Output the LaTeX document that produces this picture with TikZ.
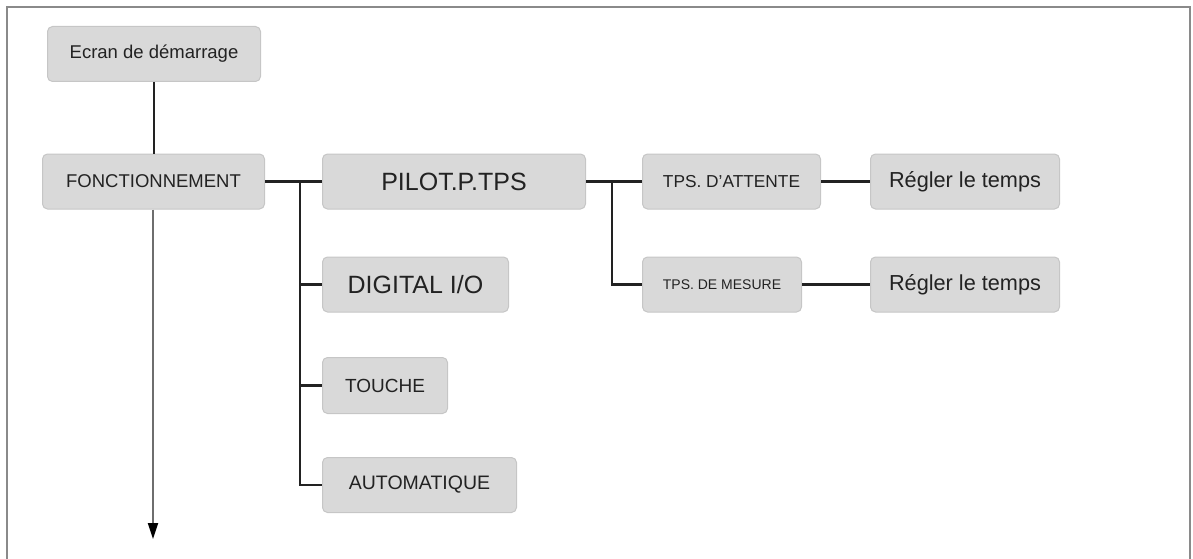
\documentclass[tikz,border=0pt]{standalone}
\usepackage{fontspec}
\setmainfont{Liberation Sans}
\usetikzlibrary{arrows.meta}
\definecolor{boxfill}{HTML}{D9D9D9}
\definecolor{boxline}{HTML}{C6C6C6}
\definecolor{txt}{HTML}{222222}
\definecolor{frame}{HTML}{8A8A8A}
\tikzset{
  menubox/.style={draw=boxline, line width=1pt, fill=boxfill, rounded corners=5pt,
    text=txt, inner sep=0pt, anchor=north west},
  conn/.style={draw=txt, line width=2.4pt},
}
\begin{document}
\begin{tikzpicture}[x=1pt,y=-1pt]
\useasboundingbox (0,0) rectangle (1193,559);
% frame
\draw[frame, line width=2pt] (7,559) -- (7,7) -- (1190,7) -- (1190,559);

\node[menubox, minimum width=213pt, minimum height=55pt, font=\fontsize{18.5}{20}\selectfont] (ecran) at (47,26) {Ecran de démarrage};
\node[menubox, minimum width=222pt, minimum height=55pt, font=\fontsize{18.5}{20}\selectfont] (fonc) at (42,153.5) {FONCTIONNEMENT};
\node[menubox, minimum width=263pt, minimum height=55pt, font=\fontsize{25}{27}\selectfont] (pilot) at (322,153.5) {PILOT.P.TPS};
\node[menubox, minimum width=186pt, minimum height=55pt, font=\fontsize{25}{27}\selectfont] (digital) at (322,256.5) {DIGITAL I/O};
\node[menubox, minimum width=125pt, minimum height=56pt, font=\fontsize{19}{21}\selectfont] (touche) at (322,357) {TOUCHE};
\node[menubox, minimum width=194pt, minimum height=55pt, font=\fontsize{19.5}{21}\selectfont] (auto) at (322,457) {AUTOMATIQUE};
\node[menubox, minimum width=178pt, minimum height=55pt, font=\fontsize{17.3}{19}\selectfont] (att) at (642,153.5) {TPS. D'ATTENTE};
\node[menubox, minimum width=159pt, minimum height=55pt, font=\fontsize{14}{16}\selectfont] (mes) at (642,256.5) {TPS. DE MESURE};
\node[menubox, minimum width=189pt, minimum height=55pt, font=\fontsize{21.7}{24}\selectfont] (reg1) at (870,153.5) {Régler le temps};
\node[menubox, minimum width=189pt, minimum height=55pt, font=\fontsize{21.7}{24}\selectfont] (reg2) at (870,256.5) {Régler le temps};

\coordinate (j1) at (300,181);
\coordinate (j2) at (612,181);
\coordinate (down) at (153,539);

\draw[conn] (ecran.south -| 154,0) -- (fonc.north -| 154,0);
\draw[draw=frame!80!black, line width=2pt, -{Triangle[length=16pt,width=10pt,color=black]}] (fonc.south -| 153,0) -- (down);
\draw[conn] (fonc.east) -- (pilot.west);
\draw[conn] (j1) |- (digital.west);
\draw[conn] (j1) |- (touche.west);
\draw[conn] (j1) |- (auto.west);
\draw[conn] (pilot.east) -- (att.west);
\draw[conn] (j2) |- (mes.west);
\draw[conn] (att.east) -- (reg1.west);
\draw[conn] (mes.east) -- (reg2.west);
\end{tikzpicture}
\end{document}
